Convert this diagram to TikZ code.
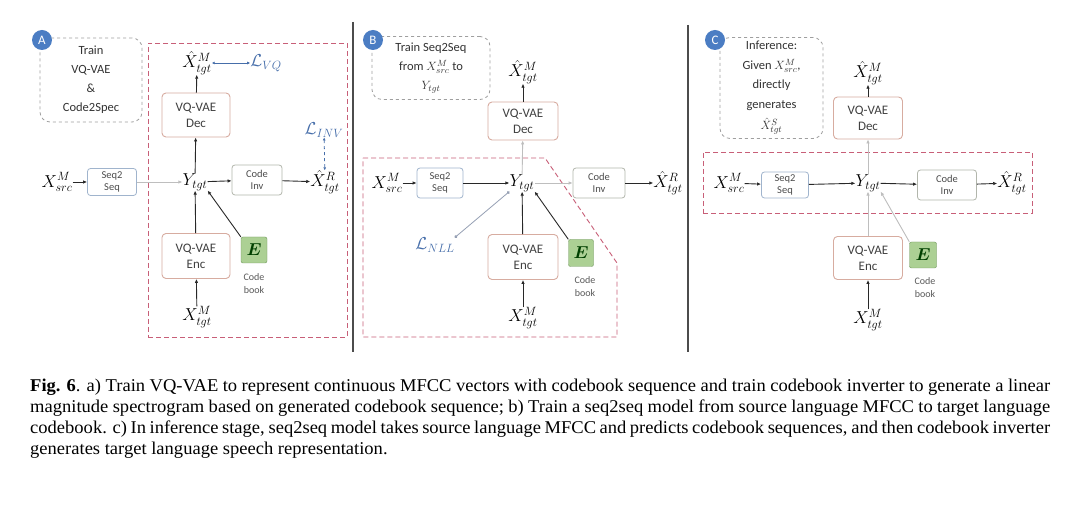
\documentclass[tikz,border=0pt]{standalone}
\usepackage{fontspec}
\usepackage{amsmath}
\setmainfont{Liberation Serif}
\newfontfamily\boxfont{Carlito}
\newfontfamily\capfont[FakeStretch=1.03]{Liberation Serif}
\usetikzlibrary{arrows.meta}
\definecolor{redd}{RGB}{200,95,120}
\definecolor{vqb}{RGB}{215,172,160}
\definecolor{seqb}{RGB}{160,180,205}
\definecolor{invb}{RGB}{178,182,172}
\definecolor{lossb}{RGB}{70,110,170}
\definecolor{egreen}{RGB}{172,208,148}
\definecolor{egreenb}{RGB}{110,150,90}
\definecolor{circ}{RGB}{75,125,195}
\definecolor{inact}{RGB}{190,190,190}
\definecolor{dark}{RGB}{40,40,40}
\definecolor{nllc}{RGB}{150,160,180}
\begin{document}
\begin{tikzpicture}[x=1pt,y=-1pt,
  vqbox/.style={draw=vqb, rounded corners=4pt, line width=0.9pt, minimum width=68pt, minimum height=44pt, inner sep=1pt, font=\boxfont\fontsize{13}{16}\selectfont, align=center, text=black!75},
  smallbox/.style={rounded corners=3pt, line width=0.8pt, minimum width=49pt, minimum height=28pt, inner sep=1pt, font=\boxfont\fontsize{10.5}{12.5}\selectfont, align=center, text=black!70},
  seqbox/.style={smallbox, draw=seqb},
  invbox/.style={smallbox, draw=invb},
  ebox/.style={draw=egreenb, fill=egreen, rounded corners=2pt, minimum width=26pt, minimum height=26pt, inner sep=0pt, font=\fontsize{18}{18}\selectfont, text=green!25!black},
  lbl/.style={font=\fontsize{18}{20}\selectfont, inner sep=0pt},
  loss/.style={lbl, text=lossb},
  book/.style={font=\boxfont\fontsize{10}{13}\selectfont, align=center, text=black!65, inner sep=0pt},
  note/.style={draw=gray!75, dashed, rounded corners=10pt, line width=0.8pt, align=center, font=\boxfont\fontsize{12.5}{19}\selectfont, text=black!80, inner sep=1pt},
  circlab/.style={circle, fill=circ, text=white, minimum size=20pt, inner sep=0pt, font=\boxfont\fontsize{13}{13}\selectfont},
  arr/.style={-{Latex[length=4pt,width=3.5pt]}, line width=0.9pt, draw=dark},
  garr/.style={-{Latex[length=4pt,width=3.5pt]}, line width=0.9pt, draw=inact},
  redbox/.style={draw=redd, line width=0.9pt, dash pattern=on 5pt off 3pt},
  divider/.style={line width=1.6pt, draw=black!70},
  capline/.style={anchor=base west, inner sep=0pt, font=\capfont\fontsize{18}{21}\selectfont}
]
\useasboundingbox (0,0) rectangle (1080,518);
\fill[white] (0,0) rectangle (1080,518);

% ---------------- Panel A ----------------
\node[redbox, minimum width=199pt, minimum height=294pt, inner sep=0pt] (ra) at (247.5,190) {};
\node[note, minimum width=102pt, minimum height=84pt] (na) at (91,80) {Train\\VQ-VAE\\\&\\Code2Spec};
\node[circlab] (ca) at (42,40) {A};
\node[lbl] (xhmA) at (197,63) {$\hat{X}^{M}_{tgt}$};
\node[loss] (lvq) at (266,63) {$\mathcal{L}_{VQ}$};
\node[vqbox] (decA) at (196,115) {VQ-VAE\\Dec};
\node[lbl] (xsrcA) at (57,182) {$X^{M}_{src}$};
\node[seqbox, minimum width=49pt, minimum height=27pt] (seqA) at (112,182) {Seq2\\Seq};
\node[lbl] (yA) at (195,182) {$Y_{tgt}$};
\node[invbox, minimum width=50pt, minimum height=30pt] (invA) at (257,180) {Code\\Inv};
\node[lbl] (xhrA) at (325,182) {$\hat{X}^{R}_{tgt}$};
\node[loss] (linv) at (324,130) {$\mathcal{L}_{INV}$};
\node[vqbox, minimum height=45pt] (encA) at (196,256) {VQ-VAE\\Enc};
\node[ebox] (eA) at (254,250) {$\boldsymbol{E}$};
\node[book] (bookA) at (254,284) {Code\\book};
\node[lbl] (xtmA) at (197,317) {$X^{M}_{tgt}$};

\draw[{Latex[length=3pt,width=3pt]}-{Latex[length=3pt,width=3pt]}, line width=0.8pt, draw=lossb] (xhmA) -- (lvq);
\draw[{Latex[length=3pt,width=3pt]}-{Latex[length=3pt,width=3pt]}, line width=0.8pt, draw=lossb, dashed] (linv) -- (xhrA);
\draw[arr] (decA) -- (xhmA);
\draw[arr] (yA) -- (decA);
\draw[arr] (xsrcA) -- (seqA);
\draw[garr] (seqA) -- (yA);
\draw[arr] (yA) -- (invA);
\draw[arr] (invA) -- (xhrA);
\draw[arr] (encA) -- (yA);
\draw[arr] (eA.north west) -- (yA.south east);
\draw[arr] (xtmA) -- (encA);

\draw[divider] (353,22) -- (353,352);

% ---------------- Panel B ----------------
\draw[redbox] (363,158) -- (545,158) -- (617,263) -- (617,337) -- (363,337) -- cycle;
\node[note, minimum width=118pt, minimum height=63pt] (nb) at (431,68) {Train Seq2Seq\\from $X^{M}_{src}$ to\\$Y_{tgt}$};
\node[circlab] (cb) at (373,40) {B};
\node[lbl] (xhmB) at (523,72) {$\hat{X}^{M}_{tgt}$};
\node[vqbox, minimum width=70pt, minimum height=38pt] (decB) at (523,121) {VQ-VAE\\Dec};
\node[lbl] (xsrcB) at (387,183) {$X^{M}_{src}$};
\node[seqbox, minimum width=46pt, minimum height=30pt] (seqB) at (440,183) {Seq2\\Seq};
\node[lbl] (yB) at (522,183) {$Y_{tgt}$};
\node[invbox, minimum width=52pt, minimum height=30pt] (invB) at (599,183) {Code\\Inv};
\node[lbl] (xhrB) at (668,183) {$\hat{X}^{R}_{tgt}$};
\node[loss] (lnll) at (435,245) {$\mathcal{L}_{NLL}$};
\node[vqbox, minimum width=70pt, minimum height=45pt] (encB) at (523,257) {VQ-VAE\\Enc};
\node[ebox, minimum width=25pt, minimum height=27pt] (eB) at (581,253) {$\boldsymbol{E}$};
\node[book] (bookB) at (585,287) {Code\\book};
\node[lbl] (xtmB) at (523,318) {$X^{M}_{tgt}$};

\draw[arr] (decB) -- (xhmB);
\draw[garr] (yB) -- (decB);
\draw[arr] (xsrcB) -- (seqB);
\draw[arr] (seqB) -- (yB);
\draw[garr] (yB) -- (invB);
\draw[arr] (invB) -- (xhrB);
\draw[{Circle[length=3pt]}-{Circle[length=3pt]}, line width=0.8pt, draw=nllc] (lnll.north east) -- (yB.south west);
\draw[arr] (encB) -- (yB);
\draw[arr] (eB.north west) -- (yB.south east);
\draw[arr] (xtmB) -- (encB);

\draw[divider] (688,25) -- (688,352);

% ---------------- Panel C ----------------
\node[redbox, minimum width=329pt, minimum height=61pt, inner sep=0pt] (rc) at (867.5,182.5) {};
\node[note, minimum width=103pt, minimum height=101pt, font=\boxfont\fontsize{12.5}{19.5}\selectfont] (nc) at (771.5,88) {Inference:\\Given $X^{M}_{src}$,\\directly\\generates\\[2pt]$\hat{X}^{S}_{tgt}$};
\node[circlab] (cc) at (715,40) {C};
\node[lbl] (xhmC) at (868,73) {$\hat{X}^{M}_{tgt}$};
\node[vqbox, minimum width=69pt, minimum height=42pt] (decC) at (868,118) {VQ-VAE\\Dec};
\node[lbl] (xsrcC) at (729,183) {$X^{M}_{src}$};
\node[seqbox, minimum width=47pt, minimum height=26pt] (seqC) at (785,185) {Seq2\\Seq};
\node[lbl] (yC) at (868,183) {$Y_{tgt}$};
\node[invbox, minimum width=59pt, minimum height=30pt] (invC) at (947,185) {Code\\Inv};
\node[lbl] (xhrC) at (1012,183) {$\hat{X}^{R}_{tgt}$};
\node[vqbox, minimum width=69pt, minimum height=43pt] (encC) at (868,258) {VQ-VAE\\Enc};
\node[ebox, minimum width=27pt, minimum height=26pt] (eC) at (923,255) {$\boldsymbol{E}$};
\node[book] (bookC) at (925,288) {Code\\book};
\node[lbl] (xtmC) at (868,320) {$X^{M}_{tgt}$};

\draw[arr] (decC) -- (xhmC);
\draw[garr] (yC) -- (decC);
\draw[arr] (xsrcC) -- (seqC);
\draw[arr] (seqC) -- (yC);
\draw[arr] (yC) -- (invC);
\draw[arr] (invC) -- (xhrC);
\draw[garr] (encC) -- (yC);
\draw[garr] (eC.north west) -- (yC.south east);
\draw[arr] (xtmC) -- (encC);

% ---------------- Caption ----------------
\node[capline] (cap1) at (30,392) {\makebox[1020pt][s]{\textbf{Fig. 6}. a) Train VQ-VAE to represent continuous MFCC vectors with codebook sequence and train codebook inverter to generate a linear}};
\node[capline] (cap2) at (30,413) {\makebox[1020pt][s]{magnitude spectrogram based on generated codebook sequence; b) Train a seq2seq model from source language MFCC to target language}};
\node[capline] (cap3) at (30,434) {\makebox[1020pt][s]{codebook. c) In inference stage, seq2seq model takes source language MFCC and predicts codebook sequences, and then codebook inverter}};
\node[capline] (cap4) at (30,455) {generates target language speech representation.};
\end{tikzpicture}
\end{document}
